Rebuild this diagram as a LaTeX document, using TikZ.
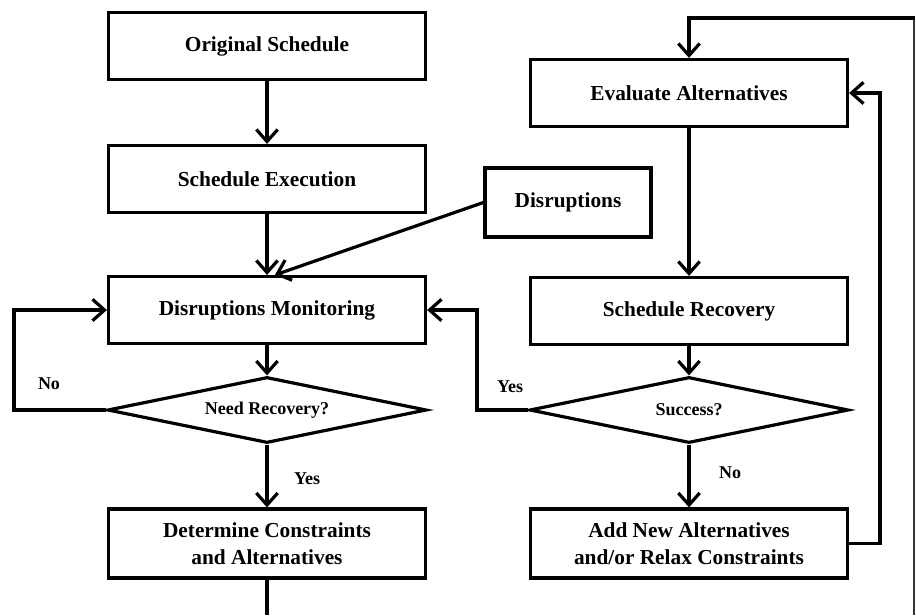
\documentclass[tikz,border=0pt]{standalone}
\usepackage{fontspec}
\setmainfont{Liberation Serif}
\usetikzlibrary{arrows.meta,shapes.geometric,positioning}

\tikzset{
  px/.style={x=0.75pt,y=-0.75pt},
  stepbox/.style={draw=black,line width=2.4pt,rectangle,minimum width=317*0.75pt,
    minimum height=67*0.75pt,inner sep=2pt,align=center,
    font=\fontsize{16}{20}\selectfont\bfseries},
  decision/.style={draw=black,line width=2.4pt,diamond,aspect=4.8,inner sep=0pt,
    minimum width=319*0.75pt,minimum height=66*0.75pt,
    font=\fontsize{13.5}{16}\selectfont\bfseries},
  flow/.style={draw=black,line width=2.4pt,-{Straight Barb[length=9pt,width=16pt,line width=2.4pt]}},
  plain/.style={draw=black,line width=2.4pt},
  tag/.style={font=\fontsize{13.5}{16}\selectfont\bfseries,inner sep=0pt}
}

\begin{document}
\begin{tikzpicture}[px]
  \useasboundingbox (0,0) rectangle (916,615);

  % left column
  \node[stepbox] (orig) at (267,46) {Original Schedule};
  \node[stepbox] (exec) at (267,179) {Schedule Execution};
  \node[stepbox,minimum width=166*0.75pt,minimum height=69*0.75pt] (dis) at (568,202.5) {Disruptions};
  \node[stepbox] (mon) at (267,310) {Disruptions Monitoring};
  \node[decision] (need) at (267,410) {Need Recovery?};
  \node[stepbox,minimum height=69*0.75pt] (det) at (267,543.5) {Determine Constraints\\and Alternatives};

  % right column
  \node[stepbox] (eval) at (689,93) {Evaluate Alternatives};
  \node[stepbox] (rec) at (689,311) {Schedule Recovery};
  \node[decision] (succ) at (689,410) {Success?};
  \node[stepbox,minimum height=69*0.75pt] (add) at (689,543.5) {Add New Alternatives\\and/or Relax Constraints};

  % bend points
  \coordinate (noL) at (14,410);
  \coordinate (yesR) at (477,410);
  \coordinate (fbR) at (880,543.5);
  \coordinate (out) at (267,615);
  \coordinate (edgeB) at (914,615);
  \coordinate (edgeT) at (914,18);
  \coordinate (topIn) at (689,18);

  % main flow
  \draw[flow] (orig) -- (exec);
  \draw[flow] (exec) -- (mon);
  \draw[flow] (dis.west) -- ([xshift=6]mon.north);
  \draw[flow] (mon) -- (need);
  \draw[flow] (need) -- (det);
  \draw[flow] (need.west) -- (noL) |- (mon.west);
  \draw[flow] (eval) -- (rec);
  \draw[flow] (rec) -- (succ);
  \draw[flow] (succ) -- (add);
  \draw[flow] (succ.west) -- (yesR) |- (mon.east);
  \draw[flow] (add.east) -- (fbR) |- (eval.east);

  % link leaving the bottom and re-entering at the top
  \draw[plain] (det.south) -- (out);
  \draw[draw=black!80,line width=0.8pt] (edgeB) -- (edgeT);
  \draw[flow] ([xshift=1]edgeT) -- (topIn) -- (eval.north);

  % branch labels
  \node[tag] (lNo) at (49,384) {No};
  \node[tag] (lYes1) at (307,479) {Yes};
  \node[tag] (lYes2) at (510,387) {Yes};
  \node[tag] (lNo2) at (730,473) {No};
\end{tikzpicture}
\end{document}
